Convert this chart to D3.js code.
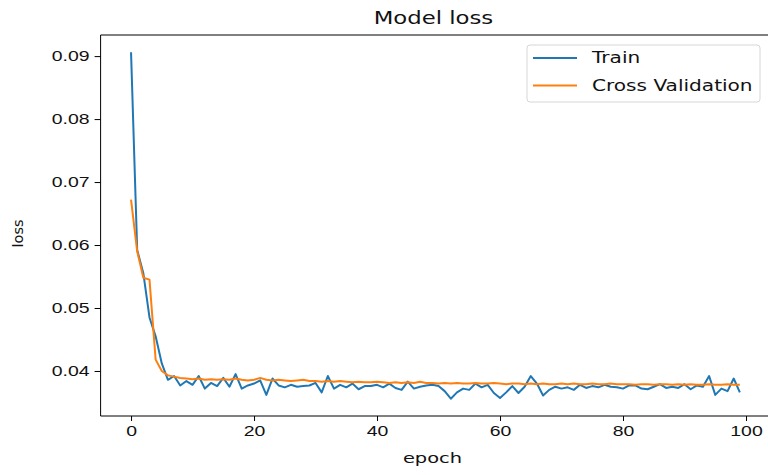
<!DOCTYPE html>
<html>
<head>
<meta charset="utf-8">
<script src="https://cdn.jsdelivr.net/npm/d3@7"></script>
<style>
  body { margin: 0; background: #fff; }
  svg { display: block; font-family: "DejaVu Sans", sans-serif; }
</style>
</head>
<body>
<svg width="768" height="475"></svg>
<script>
// loss per epoch
const epochs = d3.range(0, 100);

const trainLoss = [
  0.0906, 0.0592, 0.0555, 0.0485, 0.0455, 0.0412, 0.0386, 0.0392, 0.0377, 0.0384,
  0.0378, 0.0392, 0.0372, 0.0381, 0.0376, 0.0389, 0.0375, 0.0395, 0.0372, 0.0377,
  0.0380, 0.0385, 0.0362, 0.0388, 0.0377, 0.0374, 0.0378, 0.0375, 0.0376, 0.0377,
  0.0381, 0.0366, 0.0392, 0.0372, 0.0378, 0.0374, 0.0380, 0.0371, 0.0376, 0.0376,
  0.0378, 0.0374, 0.0380, 0.0373, 0.0370, 0.0383, 0.0372, 0.0375, 0.0377, 0.0378,
  0.0376, 0.0368, 0.0356, 0.0366, 0.0372, 0.0370, 0.0380, 0.0374, 0.0378, 0.0365,
  0.0357, 0.0366, 0.0376, 0.0365, 0.0375, 0.0392, 0.0380, 0.0361, 0.0370, 0.0375,
  0.0372, 0.0374, 0.0370, 0.0378, 0.0373, 0.0376, 0.0374, 0.0378, 0.0375, 0.0374,
  0.0372, 0.0377, 0.0377, 0.0372, 0.0371, 0.0375, 0.0379, 0.0373, 0.0375, 0.0373,
  0.0379, 0.0371, 0.0377, 0.0375, 0.0392, 0.0362, 0.0372, 0.0368, 0.0388, 0.0366
];

const valLoss = [
  0.0672, 0.0590, 0.0548, 0.0545, 0.0418, 0.0400, 0.0393, 0.0391, 0.0389, 0.0388,
  0.0387, 0.0388, 0.0386, 0.0387, 0.0386, 0.0387, 0.0386, 0.0388, 0.0386, 0.0385,
  0.0386, 0.0389, 0.0386, 0.0385, 0.0386, 0.0385, 0.0384, 0.0385, 0.0386, 0.0384,
  0.0384, 0.0383, 0.0384, 0.0383, 0.0384, 0.0383, 0.0382, 0.0383, 0.0382, 0.0382,
  0.0383, 0.0382, 0.0381, 0.0382, 0.0381, 0.0382, 0.0381, 0.0383, 0.0381, 0.0381,
  0.0380, 0.0381, 0.0380, 0.0381, 0.0380, 0.0380, 0.0381, 0.0380, 0.0380, 0.0381,
  0.0380, 0.0379, 0.0380, 0.0380, 0.0379, 0.0380, 0.0379, 0.0380, 0.0379, 0.0379,
  0.0380, 0.0379, 0.0380, 0.0379, 0.0379, 0.0380, 0.0379, 0.0379, 0.0380, 0.0379,
  0.0379, 0.0379, 0.0378, 0.0379, 0.0379, 0.0378, 0.0379, 0.0379, 0.0378, 0.0379,
  0.0378, 0.0379, 0.0378, 0.0378, 0.0379, 0.0378, 0.0378, 0.0379, 0.0378, 0.0378
];

const xTicks = [0, 20, 40, 60, 80, 100];
const yTicks = [0.04, 0.05, 0.06, 0.07, 0.08, 0.09];
const seriesNames = ["Train", "Cross Validation"];

// the picture is stretched sideways, so text is too
const stretch = 1.34;
const fontSize = 14.5;

const plotLeft = 100.6, plotRight = 770.3, plotTop = 35, plotBottom = 416;

const svg = d3.select("svg");

const x = d3.scaleLinear()
    .domain([-4.95, 103.95])
    .range([plotLeft, plotRight]);

const yPad = (0.0906 - 0.0356) * 0.05;
const y = d3.scaleLinear()
    .domain([0.0356 - yPad, 0.0906 + yPad])
    .range([plotBottom, plotTop]);

// x axis
const xAxis = svg.append("g")
    .attr("transform", `translate(0,${plotBottom})`)
    .call(d3.axisBottom(x).tickValues(xTicks).tickSize(5).tickPadding(5).tickFormat(d3.format("d")));
xAxis.select(".domain").remove();
xAxis.selectAll("line").attr("stroke", "#000").attr("stroke-width", 1);
xAxis.selectAll("text")
    .attr("font-size", fontSize)
    .attr("fill", "#111")
    .attr("transform", `scale(${stretch},1)`);

// y axis
const yAxis = svg.append("g")
    .attr("transform", `translate(${plotLeft},0)`)
    .call(d3.axisLeft(y).tickValues(yTicks).tickSize(6).tickPadding(5).tickFormat(d3.format(".2f")));
yAxis.select(".domain").remove();
yAxis.selectAll("line").attr("stroke", "#000").attr("stroke-width", 1);
yAxis.selectAll("text")
    .attr("font-size", fontSize)
    .attr("fill", "#111")
    .attr("x", -11 / stretch)
    .attr("transform", `scale(${stretch},1)`);

// lines
const line = d3.line()
    .x((d, i) => x(epochs[i]))
    .y(d => y(d));

svg.append("path")
    .datum(trainLoss)
    .attr("fill", "none")
    .attr("stroke", "#1f77b4")
    .attr("stroke-width", 2)
    .attr("stroke-linejoin", "round")
    .attr("d", line);

svg.append("path")
    .datum(valLoss)
    .attr("fill", "none")
    .attr("stroke", "#ff7f0e")
    .attr("stroke-width", 2)
    .attr("stroke-linejoin", "round")
    .attr("d", line);

// spines (right one falls outside the picture)
svg.append("path")
    .attr("d", `M${plotRight},${plotTop}H${plotLeft}V${plotBottom}H${plotRight}`)
    .attr("fill", "none")
    .attr("stroke", "#000")
    .attr("stroke-width", 1);

// title and axis labels
svg.append("text")
    .attr("transform", `translate(${(plotLeft + plotRight) / 2 - 2},24) scale(${stretch},1)`)
    .attr("text-anchor", "middle")
    .attr("font-size", 17)
    .attr("fill", "#111")
    .text("Model loss");

svg.append("text")
    .attr("transform", `translate(${(plotLeft + plotRight) / 2 - 3},463) scale(${stretch},1)`)
    .attr("text-anchor", "middle")
    .attr("font-size", fontSize)
    .attr("fill", "#111")
    .text("epoch");

svg.append("text")
    .attr("transform", `translate(23,${(plotTop + plotBottom) / 2 + 8}) rotate(-90)`)
    .attr("text-anchor", "middle")
    .attr("font-size", fontSize)
    .attr("fill", "#111")
    .text("loss");

// legend
const legend = svg.append("g");
legend.append("rect")
    .attr("x", 527)
    .attr("y", 45)
    .attr("width", 233)
    .attr("height", 57)
    .attr("rx", 3)
    .attr("fill", "#fff")
    .attr("fill-opacity", 0.8)
    .attr("stroke", "#d6d6d6");

const colors = ["#1f77b4", "#ff7f0e"];
seriesNames.forEach((name, i) => {
    const ly = 58 + i * 27.5;
    legend.append("line")
        .attr("x1", 533).attr("x2", 577)
        .attr("y1", ly).attr("y2", ly)
        .attr("stroke", colors[i])
        .attr("stroke-width", 2);
    legend.append("text")
        .attr("transform", `translate(592,${ly + 5}) scale(${stretch},1)`)
        .attr("font-size", fontSize + 0.5)
        .attr("fill", "#111")
        .text(name);
});
</script>
</body>
</html>
